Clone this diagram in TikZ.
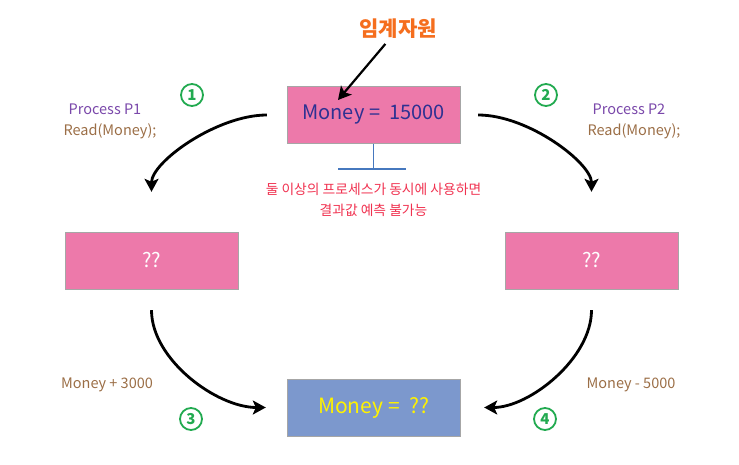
\documentclass[tikz,border=0pt]{standalone}
\usepackage{fontspec}
\setmainfont{Noto Sans CJK KR}
\usetikzlibrary{arrows.meta,positioning}
\definecolor{crpink}{RGB}{237,121,170}
\definecolor{crblue}{RGB}{124,152,205}
\definecolor{crnavy}{RGB}{46,49,146}
\definecolor{cryellow}{RGB}{255,242,0}
\definecolor{crgreen}{RGB}{34,170,80}
\definecolor{crpurple}{RGB}{122,72,170}
\definecolor{crbrown}{RGB}{155,110,70}
\definecolor{crred}{RGB}{240,50,80}
\definecolor{crorange}{RGB}{245,110,30}
\definecolor{crsteel}{RGB}{70,120,190}
\tikzset{
  vbox/.style={rectangle, draw=gray!70, fill=crpink, inner sep=0pt,
               minimum width=173pt, minimum height=57pt, font=\fontsize{20}{22}\selectfont},
  flow/.style={-{Stealth[length=13pt,width=14pt,inset=3pt]}, line width=2.8pt, black},
  stepno/.style={circle, draw=crgreen, line width=1.8pt, text=crgreen, inner sep=0pt,
                 minimum size=22pt, font=\bfseries\fontsize{15}{15}\selectfont},
  plabel/.style={font=\fontsize{14.5}{16}\selectfont},
}
\begin{document}
\begin{tikzpicture}[x=1pt,y=-1pt]
        \useasboundingbox (0,0) rectangle (739,465);
        \node[vbox,text=crnavy](res) at (373.5,115){Money =\ \ 15000};
        \node[vbox,text=white](p1) at (151.5,260.5){??};
        \node[vbox,text=white](p2) at (591.5,260.5){??};
        \node[vbox,fill=crblue,text=cryellow,font=\fontsize{21}{22}\selectfont](sum) at (373.5,407.5){Money =\ \ ??};
        \node[text=crorange,font=\bfseries\fontsize{21}{22}\selectfont](title) at (398,29){임계자원};
        \coordinate (tip) at (338,100);
        \draw[flow,line width=2.2pt,shorten <=2pt](title) -- (tip);
        % shared resource note
        \coordinate (stem) at (373.5,169);
        \coordinate (barl) at (338,169);
        \coordinate (barr) at (406,169);
        \draw[crsteel,line width=1.5pt](res.south) -- (stem);
        \draw[crsteel,line width=1.5pt](barl) -- (barr);
        \node[text=crred,align=center,font=\fontsize{13.8}{21}\selectfont](warn) at (373.5,200){둘 이상의 프로세스가 동시에 사용하면\\결과값 예측 불가능};
        \node[plabel,text=crpurple](proc1) at (105,109){Process P1};
        \node[plabel,text=crbrown](read1) at (110,131){Read(Money);};
        \node[plabel,text=crpurple](proc2) at (629,109){Process P2};
        \node[plabel,text=crbrown](read2) at (634,131){Read(Money);};
        \node[plabel,text=crbrown](op1) at (107,385){Money + 3000};
        \node[plabel,text=crbrown](op2) at (631,385){Money - 5000};
        \node[stepno](n1) at (192,95){1};
        \node[stepno](n2) at (546,95){2};
        \node[stepno](n3) at (191,419){3};
        \node[stepno](n4) at (545,419){4};
        \draw[flow,shorten <=20pt,shorten >=40pt](res.west) to[out=180,in=90] (p1.north);
        \draw[flow,shorten <=18pt,shorten >=40pt](res.east) to[out=0,in=90] (p2.north);
        \draw[flow,shorten <=21pt,shorten >=21pt](p1.south) to[out=-90,in=180] (sum.west);
        \draw[flow,shorten <=21pt,shorten >=24pt](p2.south) to[out=-90,in=0] (sum.east);
\end{tikzpicture}
\end{document}
